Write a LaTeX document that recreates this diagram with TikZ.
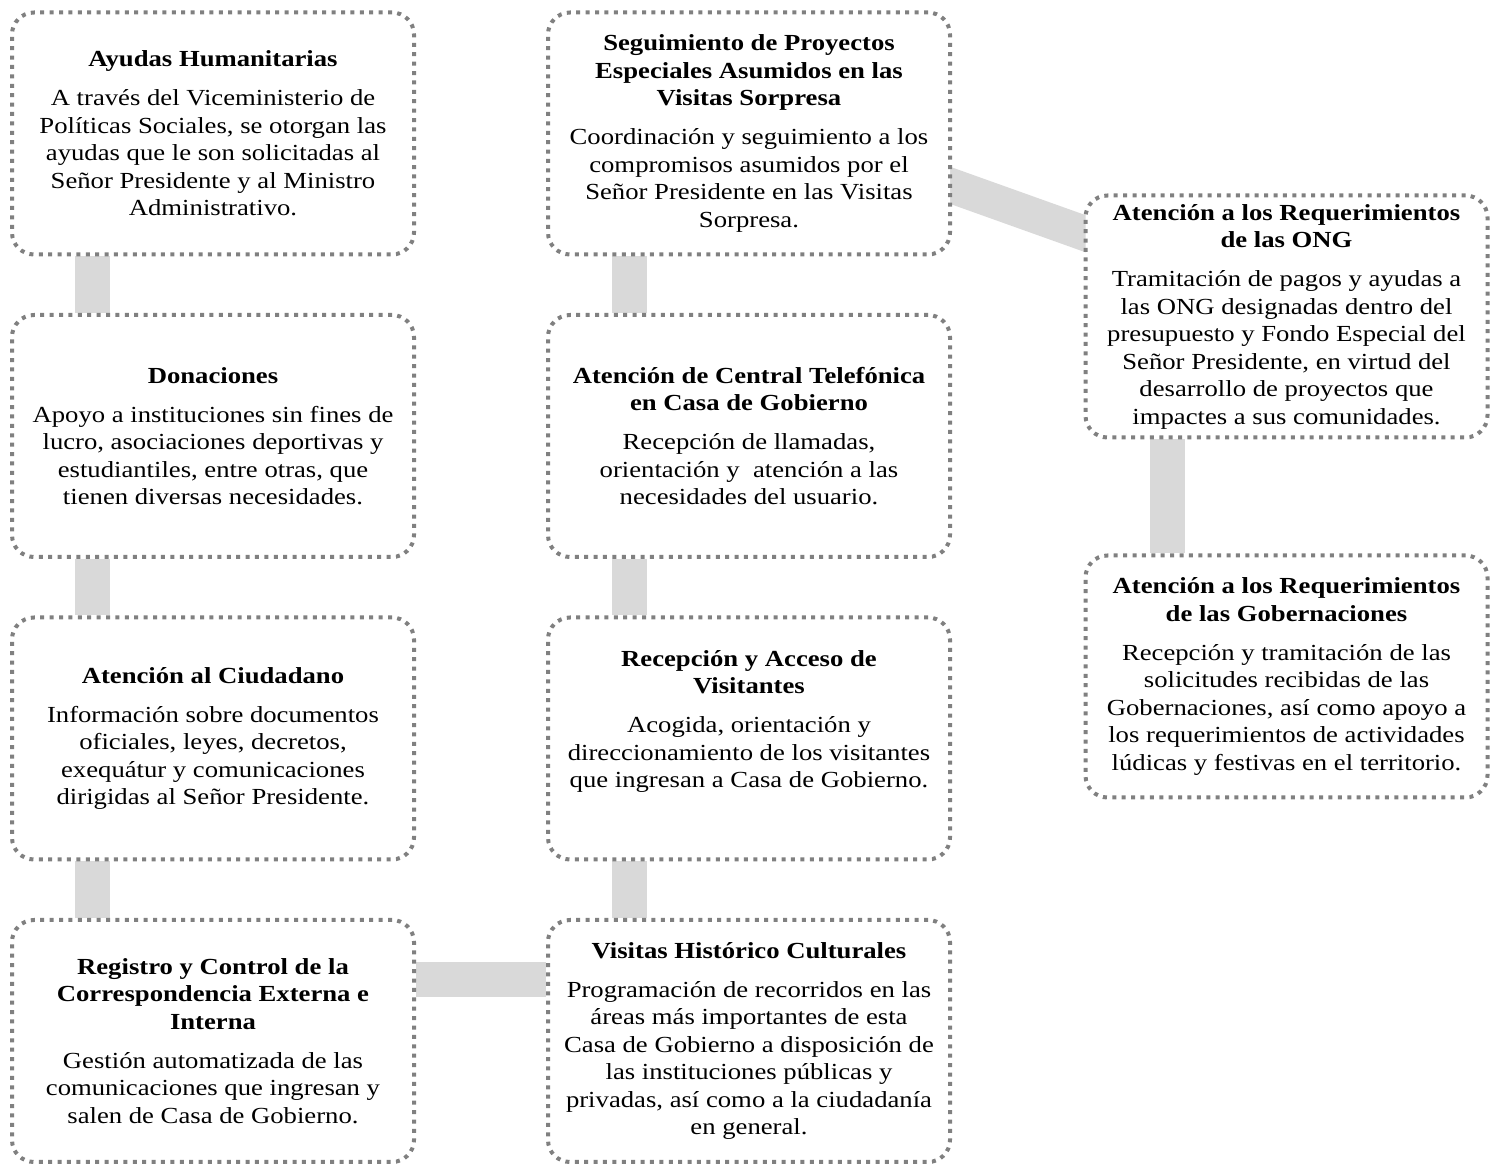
\documentclass[tikz,border=0pt]{standalone}
\usepackage{fontspec}
\setmainfont{Liberation Serif}[FakeStretch=1.16]
\usetikzlibrary{backgrounds}
\definecolor{dotgray}{HTML}{808080}
\definecolor{bargray}{HTML}{D9D9D9}
\tikzset{
  box/.style={draw=dotgray, line width=2pt, dash pattern=on 2pt off 2.7pt,
    rounded corners=11pt, fill=white, minimum width=201pt, minimum height=121pt,
    inner sep=0pt},
  txt/.style={align=center, inner sep=0pt, font=\fontsize{11.5}{13.75}\selectfont},
  conn/.style={draw=bargray, line width=17.5pt},
}
\newcommand{\ttl}[1]{\textbf{#1}}
\begin{document}
\begin{tikzpicture}[x=0.5pt,y=-0.5pt]
\useasboundingbox (0,0) rectangle (1496,1165);
% boxes
\node[box] (A) at (213,133.5) {};
\node[box] (B) at (213,436) {};
\node[box] (C) at (213,738.5) {};
\node[box] (D) at (213,1041) {};
\node[box] (E) at (749,133.5) {};
\node[box] (F) at (749,436) {};
\node[box] (G) at (749,738.5) {};
\node[box] (H) at (749,1041) {};
\node[box] (I) at (1286.5,316.5) {};
\node[box] (J) at (1286.5,676.5) {};
% texts
\node[txt] (At) at (A.center) {\ttl{Ayudas Humanitarias}\\[5.75pt]
A través del Viceministerio de\\
Políticas Sociales, se otorgan las\\
ayudas que le son solicitadas al\\
Señor Presidente y al Ministro\\
Administrativo.};
\node[txt] (Bt) at (B.center) {\ttl{Donaciones}\\[5.75pt]
Apoyo a instituciones sin fines de\\
lucro, asociaciones deportivas y\\
estudiantiles, entre otras, que\\
tienen diversas necesidades.};
\node[txt] (Ct) at (C.center) {\ttl{Atención al Ciudadano}\\[5.75pt]
Información sobre documentos\\
oficiales, leyes, decretos,\\
exequátur y comunicaciones\\
dirigidas al Señor Presidente.};
\node[txt] (Dt) at (D.center) {\ttl{Registro y Control de la}\\
\ttl{Correspondencia Externa e}\\
\ttl{Interna}\\[5.75pt]
Gestión automatizada de las\\
comunicaciones que ingresan y\\
salen de Casa de Gobierno.};
\node[txt] (Et) at (E.center) {\ttl{Seguimiento de Proyectos}\\
\ttl{Especiales Asumidos en las}\\
\ttl{Visitas Sorpresa}\\[5.75pt]
Coordinación y seguimiento a los\\
compromisos asumidos por el\\
Señor Presidente en las Visitas\\
Sorpresa.};
\node[txt] (Ft) at (F.center) {\ttl{Atención de Central Telefónica}\\
\ttl{en Casa de Gobierno}\\[5.75pt]
Recepción de llamadas,\\
orientación y\ \ atención a las\\
necesidades del usuario.};
\node[txt] (Gt) at ([yshift=8.5pt]G.center) {\ttl{Recepción y Acceso de}\\
\ttl{Visitantes}\\[5.75pt]
Acogida, orientación y\\
direccionamiento de los visitantes\\
que ingresan a Casa de Gobierno.};
\node[txt] (Ht) at (H.center) {\ttl{Visitas Histórico Culturales}\\[5.75pt]
Programación de recorridos en las\\
áreas más importantes de esta\\
Casa de Gobierno a disposición de\\
las instituciones públicas y\\
privadas, así como a la ciudadanía\\
en general.};
\node[txt] (It) at (I.center) {\ttl{Atención a los Requerimientos}\\
\ttl{de las ONG}\\[5.75pt]
Tramitación de pagos y ayudas a\\
las ONG designadas dentro del\\
presupuesto y Fondo Especial del\\
Señor Presidente, en virtud del\\
desarrollo de proyectos que\\
impactes a sus comunidades.};
\node[txt] (Jt) at (J.center) {\ttl{Atención a los Requerimientos}\\
\ttl{de las Gobernaciones}\\[5.75pt]
Recepción y tramitación de las\\
solicitudes recibidas de las\\
Gobernaciones, así como apoyo a\\
los requerimientos de actividades\\
lúdicas y festivas en el territorio.};
% connectors
\begin{scope}[on background layer]
\draw[conn] ([xshift=-60.5pt]A.south) -- ([xshift=-60.5pt]B.north);
\draw[conn] ([xshift=-60.5pt]B.south) -- ([xshift=-60.5pt]C.north);
\draw[conn] ([xshift=-60.5pt]C.south) -- ([xshift=-60.5pt]D.north);
\draw[conn] ([xshift=-60pt]E.south) -- ([xshift=-60pt]F.north);
\draw[conn] ([xshift=-60pt]F.south) -- ([xshift=-60pt]G.north);
\draw[conn] ([xshift=-60pt]G.south) -- ([xshift=-60pt]H.north);
\draw[conn] ([xshift=-59.75pt]I.south) -- ([xshift=-59.75pt]J.north);
\draw[conn] ([yshift=30.5pt]D.east) -- ([yshift=30.5pt]H.west);
\draw[conn, shorten <=-6pt, shorten >=-6pt] ([yshift=-26.25pt]E.east) -- ([yshift=41.75pt]I.west);
\end{scope}
\end{tikzpicture}
\end{document}
